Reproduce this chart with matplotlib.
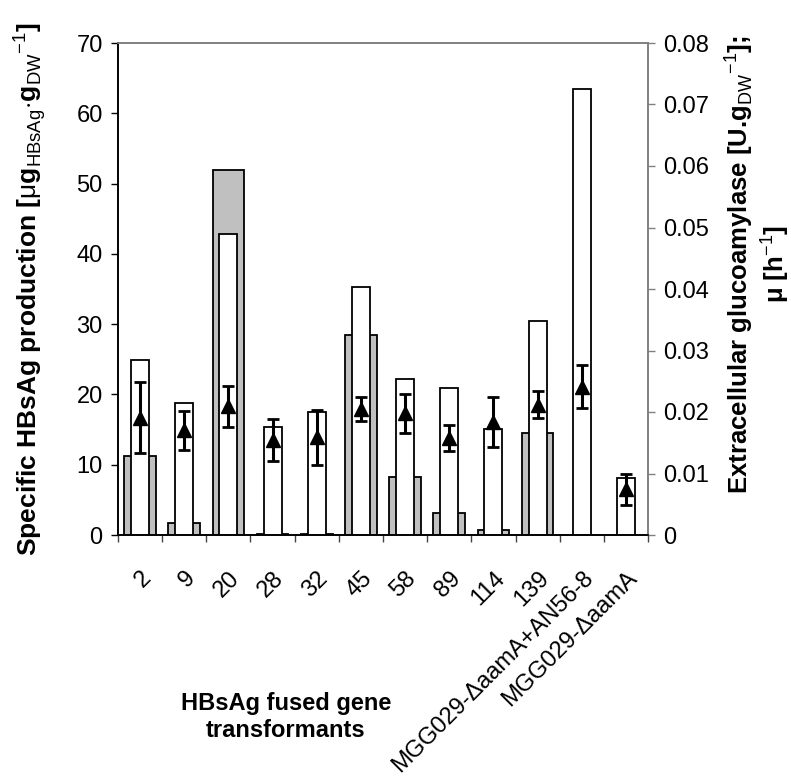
import matplotlib
matplotlib.use("Agg")
import matplotlib.pyplot as plt
import numpy as np

plt.rcParams["font.family"] = ["Liberation Sans", "DejaVu Sans"]
plt.rcParams["mathtext.fontset"] = "custom"
plt.rcParams["mathtext.rm"] = "Liberation Sans"
plt.rcParams["mathtext.bf"] = "Liberation Sans:bold"

# data
categories = ["2", "9", "20", "28", "32", "45", "58", "89", "114", "139",
              "MGG029-\u0394aamA+AN56-8", "MGG029-\u0394aamA"]
hbsag = [11.3, 1.7, 51.9, 0.15, 0.15, 28.4, 8.2, 3.1, 0.7, 14.5, 0, 0]
glucoamylase = [0.0285, 0.0214, 0.0489, 0.0175, 0.0200, 0.0404, 0.0253,
                0.0239, 0.0173, 0.0348, 0.0725, 0.0093]
mu = [0.0191, 0.0170, 0.0209, 0.0154, 0.0159, 0.0205, 0.0198, 0.0158,
      0.0184, 0.0212, 0.0241, 0.0074]
mu_err = [0.0058, 0.0032, 0.0033, 0.0034, 0.0045, 0.0020, 0.0032, 0.0021,
          0.0041, 0.0022, 0.0035, 0.0025]

FS = 17
LFS = 19
fig = plt.figure(figsize=(7.91, 7.80), dpi=100)
fig.subplots_adjust(left=118 / 791, right=648 / 791,
                    bottom=(780 - 535) / 780, top=(780 - 43) / 780)
ax = fig.add_subplot(111)
ax2 = ax.twinx()

x = np.arange(len(categories))
hb = np.array(hbsag, dtype=float)
keep = hb > 0
ax.bar(x[keep], hb[keep], width=0.72, color="#c0c0c0", edgecolor="black",
       linewidth=1.3, zorder=2)

ax2.bar(x, glucoamylase, width=0.41, color="white", edgecolor="black",
        linewidth=1.3, zorder=2)
ax2.errorbar(x, mu, yerr=mu_err, fmt="^", color="black", markersize=10,
             elinewidth=2.2, capsize=4, capthick=2, zorder=3)

ax.set_xlim(-0.5, len(categories) - 0.5)
ax.set_ylim(0, 70)
ax.set_yticks(np.arange(0, 71, 10))
ax2.set_ylim(0, 0.08)
ax2.set_yticks(np.arange(0, 0.081, 0.01))
ax2.set_yticklabels(["0"] + [f"{v:.2f}" for v in np.arange(0.01, 0.081, 0.01)])

ax.set_xticks(x)
ax.set_xticklabels(categories, rotation=45, ha="right", va="top",
                   rotation_mode="anchor", fontsize=FS)
ax.set_xticks(np.arange(-0.5, len(categories)), minor=True)
ax.tick_params(axis="x", which="major", length=0, pad=23)
ax.tick_params(axis="x", which="minor", length=5, width=1, color="#444444")
ax.tick_params(axis="y", length=5, width=1, labelsize=FS, pad=6)
ax2.tick_params(axis="y", length=5, width=1, color="#808080", labelsize=FS, pad=6)

for a in (ax, ax2):
    a.spines["left"].set_color("black")
    a.spines["bottom"].set_color("black")
    a.spines["top"].set_color("#808080")
    a.spines["right"].set_color("#808080")
    for s in a.spines.values():
        s.set_linewidth(1.2)

ax.set_ylabel(r"Specific HBsAg production [$\mathrm{\mu}$g$_{\mathrm{HBsAg}}$$\cdot$g$_{\mathrm{DW}}$$^{\mathrm{-1}}$]",
              fontsize=LFS, fontweight="bold")
ax.yaxis.set_label_coords(-0.133, 0.5)
ax2.set_ylabel("Extracellular glucoamylase [U.g$_{\\mathrm{DW}}$$^{\\mathrm{-1}}$];\n"
               "\u03bc [h$^{\\mathrm{-1}}$]",
               fontsize=18.5, fontweight="bold", multialignment="center",
               linespacing=1.12)
ax2.yaxis.set_label_coords(1.14, 0.55)

ax.set_xlabel("HBsAg fused gene\ntransformants", fontsize=FS, fontweight="bold")
ax.xaxis.set_label_coords(0.317, -0.32)
ax.xaxis.label.set_va("top")

fig.savefig("out.png", dpi=100)
